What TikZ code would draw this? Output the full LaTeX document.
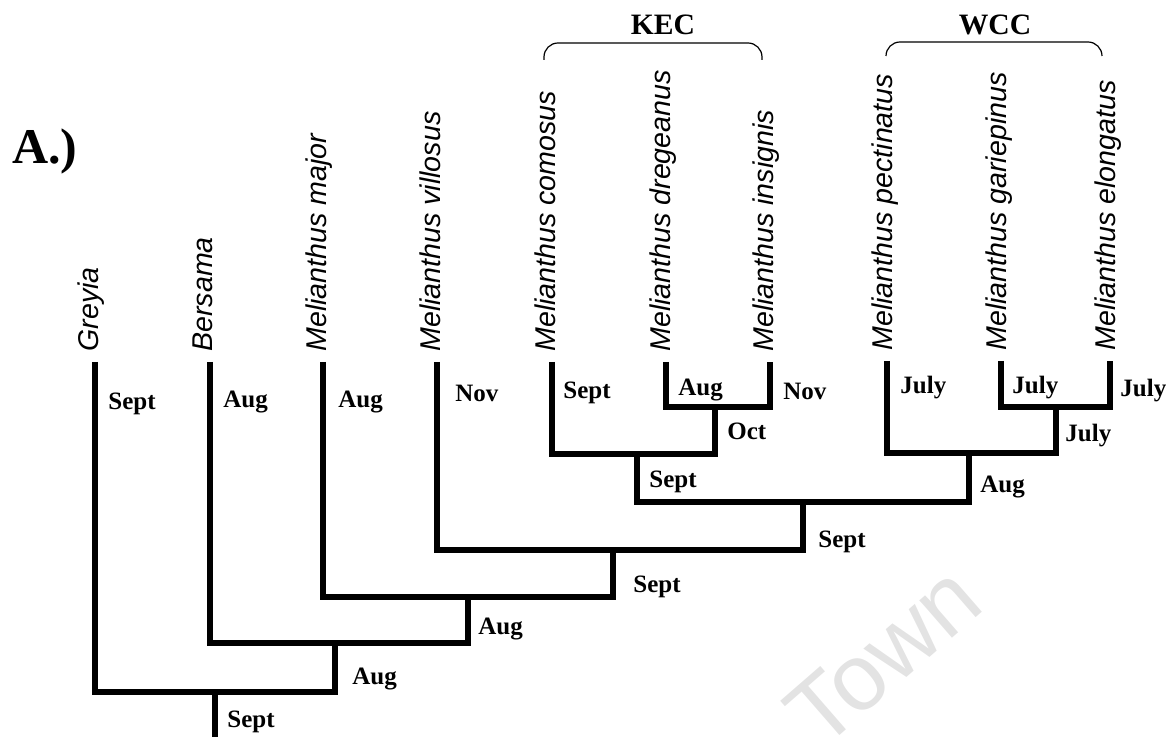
\documentclass[tikz,border=0pt]{standalone}
\usepackage{fontspec}
\setmainfont{Liberation Serif}
\newfontfamily\arialfont{Liberation Sans}
\begin{document}
\begin{tikzpicture}[x=0.5pt,y=-0.5pt,
  branch/.style={line width=3.3pt, line join=miter},
  datelbl/.style={font=\fontsize{12.5}{14}\selectfont\bfseries, inner sep=0pt, anchor=base west},
  species/.style={font=\arialfont\itshape\fontsize{14.3}{16}\selectfont, inner sep=0pt, anchor=base west, rotate=90},
  grouplbl/.style={font=\fontsize{14.8}{16}\selectfont\bfseries, inner sep=0pt, anchor=base},
  bracket/.style={line width=0.6pt, rounded corners=7pt},
  wmark/.style={font=\arialfont\fontsize{47}{50}\selectfont, text=black!11, inner sep=0pt, anchor=base west, rotate=41}]
\useasboundingbox (0,0) rectangle (1175,737);
\begin{scope}
\clip (0,0) rectangle (1175,737);
\node[wmark] (wm) at (821,752) {Town};
\end{scope}

% panel label
\node[font=\fontsize{25}{28}\selectfont\bfseries, inner sep=0pt, anchor=base west] (panel) at (12,164) {A.)};

% group labels and brackets
\node[grouplbl] (kec) at (663,35) {KEC};
\node[grouplbl] (wcc) at (995,35) {WCC};
\coordinate (kecL) at (544,60);
\coordinate (kecR) at (762,60);
\coordinate (wccL) at (886,56);
\coordinate (wccR) at (1102,56);
\draw[bracket] (kecL) -- ++(0,-17) -| (kecR);
\draw[bracket] (wccL) -- ++(0,-14) -| (wccR);

% leaf tips
\coordinate (tG) at (95,362);
\coordinate (tB) at (210,362);
\coordinate (tMa) at (323,362);
\coordinate (tV) at (437,362);
\coordinate (tC) at (552,362);
\coordinate (tD) at (666,362);
\coordinate (tI) at (770,362);
\coordinate (tP) at (887,361);
\coordinate (tGa) at (1001,361);
\coordinate (tE) at (1110,361);

% internal nodes
\coordinate (nDI) at (715,407);
\coordinate (nCDI) at (637,454);
\coordinate (nGE) at (1056,407);
\coordinate (nPGE) at (969,453);
\coordinate (nKW) at (803,502);
\coordinate (nV) at (613,550);
\coordinate (nMa) at (468,597);
\coordinate (nB) at (335,643);
\coordinate (nR) at (215,692);
\coordinate (rootend) at (215,745);

% branches
\draw[branch] (tD) |- (nDI) -| (tI);
\draw[branch] (tC) |- (nCDI) -| (nDI);
\draw[branch] (tGa) |- (nGE) -| (tE);
\draw[branch] (tP) |- (nPGE) -| (nGE);
\draw[branch] (nCDI) |- (nKW) -| (nPGE);
\draw[branch] (tV) |- (nV) -| (nKW);
\draw[branch] (tMa) |- (nMa) -| (nV);
\draw[branch] (tB) |- (nB) -| (nMa);
\draw[branch] (tG) |- (nR) -| (nB);
\draw[branch] (nR) -- (rootend);

% species names
\node[species] (sG) at (98,352) {Greyia};
\node[species] (sB) at (212,352) {Bersama};
\node[species] (sMa) at (326,352) {Melianthus major};
\node[species] (sV) at (440,352) {Melianthus villosus};
\node[species] (sC) at (555,352) {Melianthus comosus};
\node[species] (sD) at (670,352) {Melianthus dregeanus};
\node[species] (sI) at (773,352) {Melianthus insignis};
\node[species] (sP) at (892,351) {Melianthus pectinatus};
\node[species] (sGa) at (1006,351) {Melianthus gariepinus};
\node[species] (sE) at (1115,351) {Melianthus elongatus};

% date labels
\node[datelbl] (dG) at (108,410) {Sept};
\node[datelbl] (dB) at (223,408) {Aug};
\node[datelbl] (dMa) at (338,408) {Aug};
\node[datelbl] (dV) at (455,402) {Nov};
\node[datelbl] (dC) at (563,399) {Sept};
\node[datelbl] (dD) at (678,396) {Aug};
\node[datelbl] (dI) at (783,400) {Nov};
\node[datelbl] (dP) at (900,394) {July};
\node[datelbl] (dGa) at (1012,394) {July};
\node[datelbl] (dE) at (1120,397) {July};
\node[datelbl] (dDI) at (727,440) {Oct};
\node[datelbl] (dGE) at (1065,442) {July};
\node[datelbl] (dCDI) at (649,488) {Sept};
\node[datelbl] (dPGE) at (980,493) {Aug};
\node[datelbl] (dKW) at (818,548) {Sept};
\node[datelbl] (dVn) at (633,593) {Sept};
\node[datelbl] (dMan) at (478,635) {Aug};
\node[datelbl] (dBn) at (352,685) {Aug};
\node[datelbl] (dR) at (227,728) {Sept};
\end{tikzpicture}
\end{document}
